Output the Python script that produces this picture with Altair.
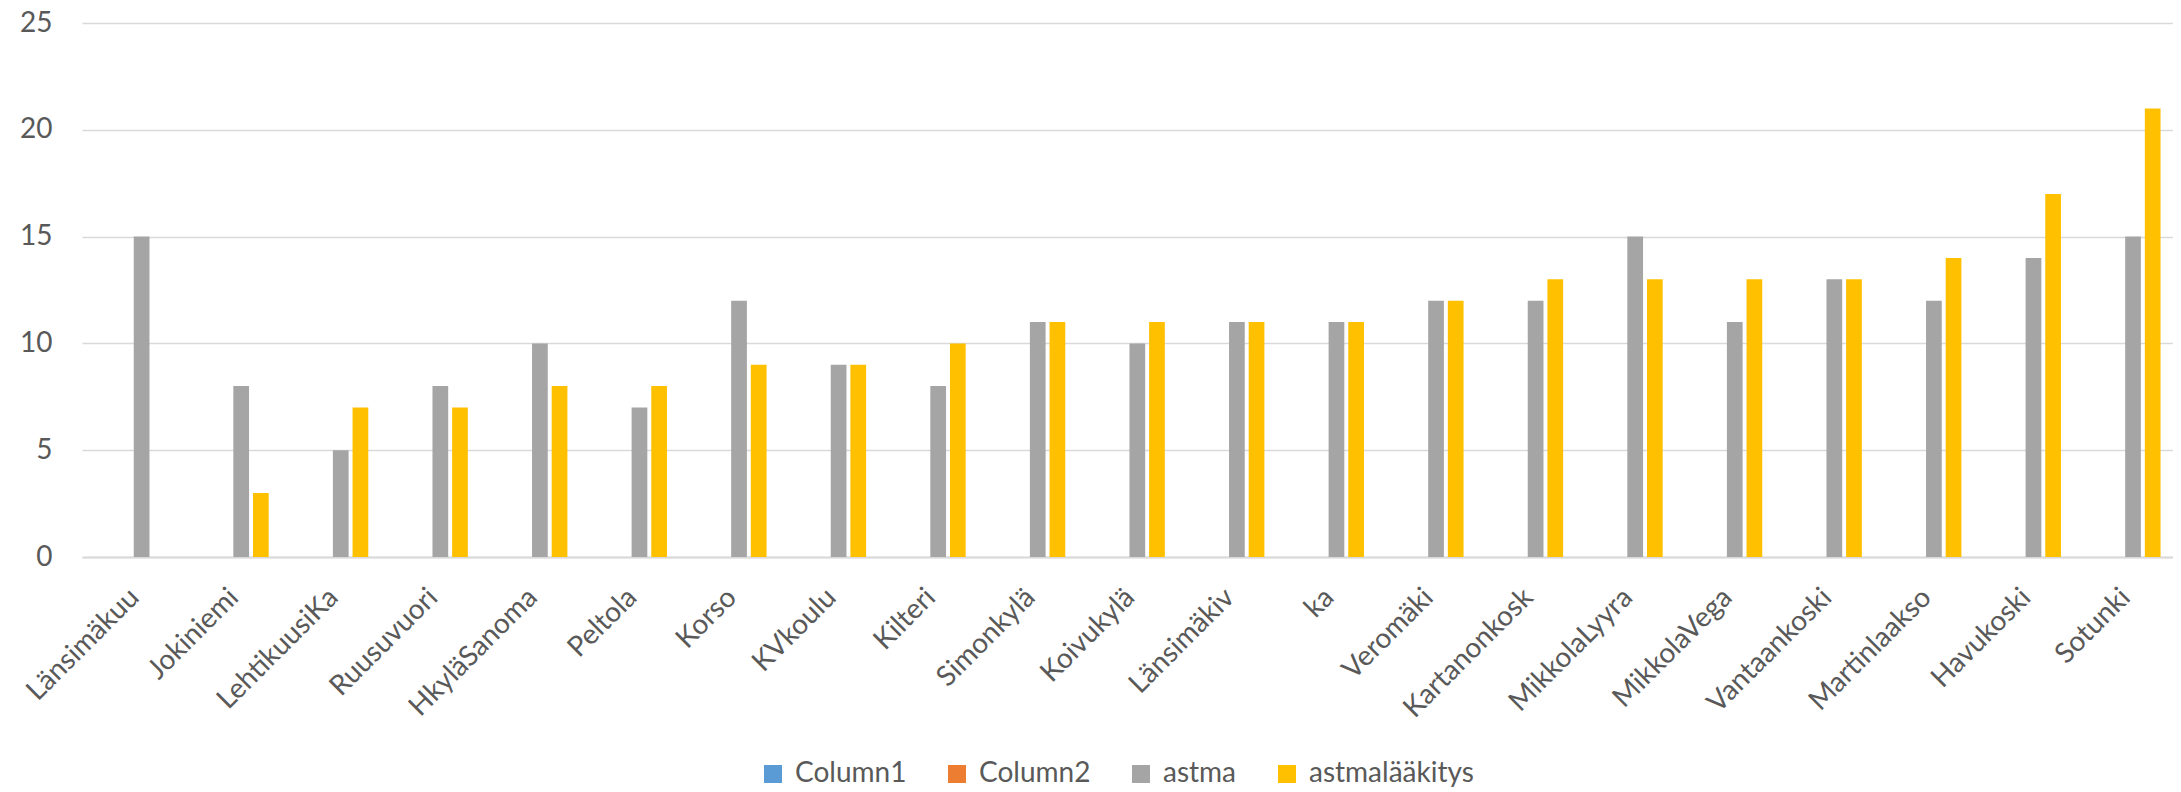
import altair as alt
import pandas as pd

categories = ["Länsimäkuu", "Jokiniemi", "LehtikuusiKa", "Ruusuvuori", "HkyläSanoma",
              "Peltola", "Korso", "KVkoulu", "Kilteri", "Simonkylä", "Koivukylä",
              "Länsimäkiv", "ka", "Veromäki", "Kartanonkosk", "MikkolaLyyra",
              "MikkolaVega", "Vantaankoski", "Martinlaakso", "Havukoski", "Sotunki"]
column1 = [None] * len(categories)
column2 = [None] * len(categories)
astma = [15, 8, 5, 8, 10, 7, 12, 9, 8, 11, 10, 11, 11, 12, 12, 15, 11, 13, 12, 14, 15]
astmalaakitys = [None, 3, 7, 7, 8, 8, 9, 9, 10, 11, 11, 11, 11, 12, 13, 13, 13, 13, 14, 17, 21]

series_names = ["Column1", "Column2", "astma", "astmalääkitys"]
series_colors = ["#5B9BD5", "#ED7D31", "#A5A5A5", "#FFC000"]
y_ticks = [0, 5, 10, 15, 20, 25]

rows = []
for name, vals in zip(series_names, [column1, column2, astma, astmalaakitys]):
    for c, v in zip(categories, vals):
        if v is not None:
            rows.append({"cat": c, "series": name, "value": v})
df = pd.DataFrame(rows)

FONT = "Lato"
TEXT = "#595959"

chart = alt.Chart(df).mark_bar().encode(
    x=alt.X("cat:N", sort=categories,
            scale=alt.Scale(domain=categories, paddingInner=0.25, paddingOuter=0.125),
            axis=alt.Axis(title=None, labelAngle=315, labelAlign="right", labelBaseline="middle",
                          labelFont=FONT, labelFontSize=28, labelColor=TEXT,
                          labelPadding=36, labelOffset=3, ticks=False, labelLimit=0,
                          domainColor="#D9D9D9", domainWidth=2, grid=False,
                          labelOverlap=False)),
    xOffset=alt.XOffset("series:N", scale=alt.Scale(domain=series_names, paddingInner=0.2, paddingOuter=0)),
    y=alt.Y("value:Q", scale=alt.Scale(domain=[0, 25], nice=False),
            axis=alt.Axis(title=None, values=y_ticks, labelFont=FONT, labelFontSize=28,
                          labelColor=TEXT, labelPadding=30, ticks=False, domain=False,
                          gridColor="#D9D9D9", gridWidth=1.5)),
    color=alt.Color("series:N", scale=alt.Scale(domain=series_names, range=series_colors),
                    legend=alt.Legend(title=None, orient="none", direction="horizontal",
                                      legendX=677, legendY=737, symbolType="square",
                                      symbolSize=324, symbolStrokeWidth=0, labelLimit=0,
                                      labelFont=FONT, labelFontSize=28, labelColor=TEXT,
                                      labelOffset=8, columnPadding=36)),
).properties(
    width=2091, height=534,
    autosize=alt.AutoSizeParams(type="none"),
    padding={"left": 74, "top": 15, "right": 0, "bottom": 234},
).configure_view(stroke=None)

chart.save("out.html", embed_options={"renderer": "svg", "actions": False})
